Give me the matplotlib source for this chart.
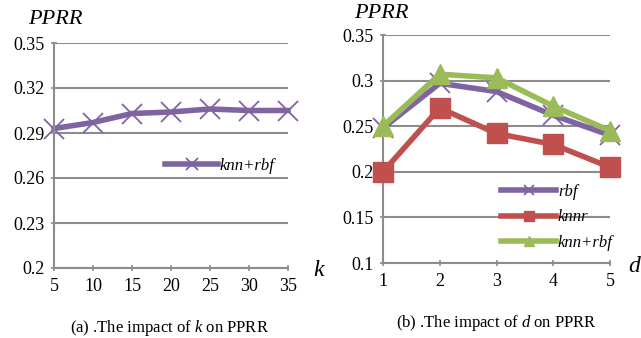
import matplotlib
matplotlib.use("Agg")
import matplotlib.pyplot as plt

plt.rcParams['font.family'] = ['Liberation Serif', 'DejaVu Serif']
plt.rcParams['mathtext.fontset'] = 'custom'
plt.rcParams['mathtext.rm'] = 'Liberation Serif'
plt.rcParams['mathtext.it'] = 'Liberation Serif:italic'

k_vals = [5, 10, 15, 20, 25, 30, 35]
knnrbf_k = [0.293, 0.297, 0.303, 0.304, 0.306, 0.305, 0.305]

d_vals = [1, 2, 3, 4, 5]
rbf_d = [0.248, 0.297, 0.288, 0.262, 0.240]
knnr_d = [0.200, 0.270, 0.242, 0.230, 0.205]
knnrbf_d = [0.250, 0.307, 0.303, 0.272, 0.245]

purple = '#8064A2'
red = '#C0504D'
green = '#9BBB59'
gridc = '#8C8C8C'

fig = plt.figure(figsize=(6.41, 3.38), dpi=100)

def style(ax):
    for s in ['top', 'right']:
        ax.spines[s].set_visible(False)
    for s in ['left', 'bottom']:
        ax.spines[s].set_color(gridc)
        ax.spines[s].set_linewidth(1.5)
    ax.yaxis.grid(True, color=gridc, linewidth=1.5)
    ax.set_axisbelow(True)
    ax.tick_params(axis='both', colors=gridc, labelcolor='black', labelsize=13,
                   direction='inout', length=5, width=1.2)
    ax.tick_params(axis='x', pad=5)
    ax.tick_params(axis='y', pad=4)

ax1 = fig.add_axes([54/641, 1-268/338, (288-54)/641, (268-43)/338])
style(ax1)
ax1.plot(k_vals, knnrbf_k, color=purple, lw=4, marker='x', ms=15, mew=1.3,
         label='knn+rbf', clip_on=False)
ax1.set_xlim(5, 35)
ax1.set_ylim(0.2, 0.35)
ax1.set_xticks(k_vals)
ax1.set_yticks([0.2, 0.23, 0.26, 0.29, 0.32, 0.35])
ax1.set_yticklabels(['0.2', '0.23', '0.26', '0.29', '0.32', '0.35'])
ax1.legend(loc='center left', bbox_to_anchor=(0.41, 0.455), frameon=False,
           prop={'style': 'italic', 'size': 12}, handlelength=3.2,
           handletextpad=0.1, markerscale=0.55)

ax2 = fig.add_axes([383/641, 1-263/338, (610-383)/641, (263-35)/338])
style(ax2)
ax2.plot(d_vals, rbf_d, color=purple, lw=4, marker='x', ms=15, mew=1.3,
         label='rbf', clip_on=False, zorder=3)
ax2.plot(d_vals, knnr_d, color=red, lw=4, marker='s', ms=15,
         label='knnr', clip_on=False, zorder=4)
ax2.plot(d_vals, knnrbf_d, color=green, lw=4, marker='^', ms=15,
         label='knn+rbf', clip_on=False, zorder=3)
ax2.set_xlim(1, 5)
ax2.set_ylim(0.1, 0.35)
ax2.set_xticks(d_vals)
ax2.set_yticks([0.1, 0.15, 0.2, 0.25, 0.3, 0.35])
ax2.set_yticklabels(['0.1', '0.15', '0.2', '0.25', '0.3', '0.35'])
ax2.legend(loc='center left', bbox_to_anchor=(0.455, 0.2), frameon=False,
           prop={'style': 'italic', 'size': 12}, handlelength=3.3,
           handletextpad=0.1, markerscale=0.5, labelspacing=0.55)

fig.text(28/641, 1-20/338, 'PPRR', style='italic', fontsize=16, va='center', ha='left')
fig.text(354/641, 1-14/338, 'PPRR', style='italic', fontsize=16, va='center', ha='left')
fig.text(313/641, 1-270/338, 'k', style='italic', fontsize=17, va='center', ha='left')
fig.text(628/641, 1-266/338, 'd', style='italic', fontsize=17, va='center', ha='left')

fig.text(170/641, 1-328/338, '(a) .The impact of $\\mathit{k}$ on PPRR', fontsize=12,
         ha='center', va='center')
fig.text(496/641, 1-323/338, '(b) .The impact of $\\mathit{d}$ on PPRR', fontsize=12,
         ha='center', va='center')

fig.savefig('out.png', dpi=100)
